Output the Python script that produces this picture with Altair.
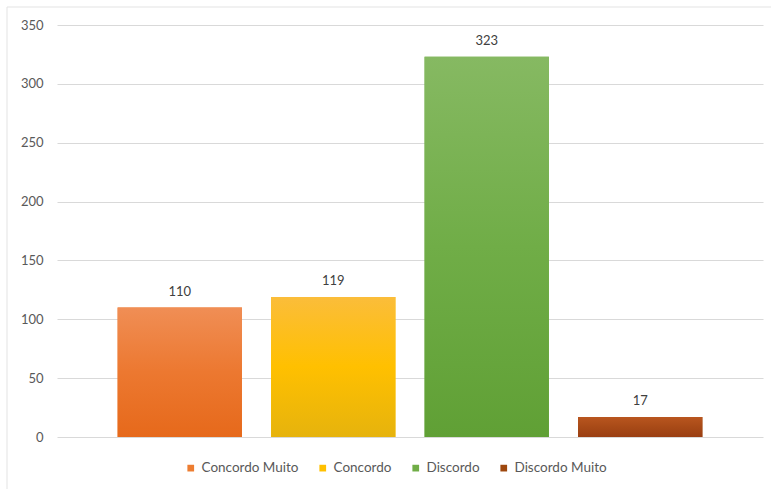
import altair as alt
import pandas as pd

categories = ["Concordo Muito", "Concordo", "Discordo", "Discordo Muito"]
values = [110, 119, 323, 17]
solid_colors = ["#ED7D31", "#FFC000", "#70AD47", "#9E480E"]
gradient_colors = [
    ["#F08E55", "#EC7830", "#E6691B"],
    ["#FBBD3A", "#FFC000", "#E6B30D"],
    ["#86B962", "#70AD47", "#60A035"],
    ["#B9561F", "#A84A17", "#9A3E12"],
]
y_ticks = [0, 50, 100, 150, 200, 250, 300, 350]

FONT = "Lato"

df = pd.DataFrame({"categoria": categories, "valor": values})

x_enc = alt.X(
    "categoria:N",
    sort=categories,
    scale=alt.Scale(domain=categories, paddingInner=0.19, paddingOuter=0.395),
    axis=None,
)
y_enc = alt.Y(
    "valor:Q",
    scale=alt.Scale(domain=[0, 350], nice=False),
    axis=alt.Axis(
        values=y_ticks,
        title=None,
        domain=False,
        ticks=False,
        labelPadding=14,
        labelFont=FONT,
        labelFontSize=13,
        labelColor="#595959",
        gridColor="#D9D9D9",
        gridWidth=1,
    ),
)

frame_df = pd.DataFrame({"f": [0]})
frame_left = alt.Chart(frame_df).mark_rule(stroke="#E3E3E3", strokeWidth=1).encode(
    x=alt.value(-50), y=alt.value(-18), y2=alt.value(470)
)
frame_top = alt.Chart(frame_df).mark_rule(stroke="#E3E3E3", strokeWidth=1).encode(
    x=alt.value(-50), x2=alt.value(720), y=alt.value(-18)
)

base_bars = alt.Chart(df).mark_bar().encode(
    x=x_enc,
    y=y_enc,
    color=alt.Color(
        "categoria:N",
        scale=alt.Scale(domain=categories, range=solid_colors),
        legend=alt.Legend(
            title=None,
            orient="none",
            direction="horizontal",
            columns=4,
            legendX=127,
            legendY=436,
            symbolType="square",
            symbolSize=45,
            symbolStrokeWidth=0,
            labelFont=FONT,
            labelFontSize=13.5,
            labelColor="#595959",
            labelOffset=4,
            columnPadding=17,
        ),
    ),
)

grad_layers = []
for cat, cols in zip(categories, gradient_colors):
    grad = alt.Gradient(
        gradient="linear",
        stops=[
            alt.GradientStop(color=cols[0], offset=0),
            alt.GradientStop(color=cols[1], offset=0.5),
            alt.GradientStop(color=cols[2], offset=1),
        ],
        x1=0, x2=0, y1=0, y2=1,
    )
    layer = (
        alt.Chart(df)
        .transform_filter(alt.datum.categoria == cat)
        .mark_bar(fill=grad)
        .encode(x=x_enc, y=y_enc)
    )
    grad_layers.append(layer)

labels = alt.Chart(df).mark_text(
    baseline="bottom", dy=-9, font=FONT, fontSize=13, color="#404040"
).encode(x=x_enc, y=y_enc, text="valor:Q")

chart = alt.layer(frame_left, frame_top, base_bars, *grad_layers, labels).properties(
    width=706,
    height=412,
    autosize=alt.AutoSizeParams(type="none"),
    padding={"left": 57, "top": 25, "right": 8, "bottom": 52},
    background="white",
).configure_view(stroke=None)

chart.save("out.html", embed_options={"renderer": "svg", "actions": False})
